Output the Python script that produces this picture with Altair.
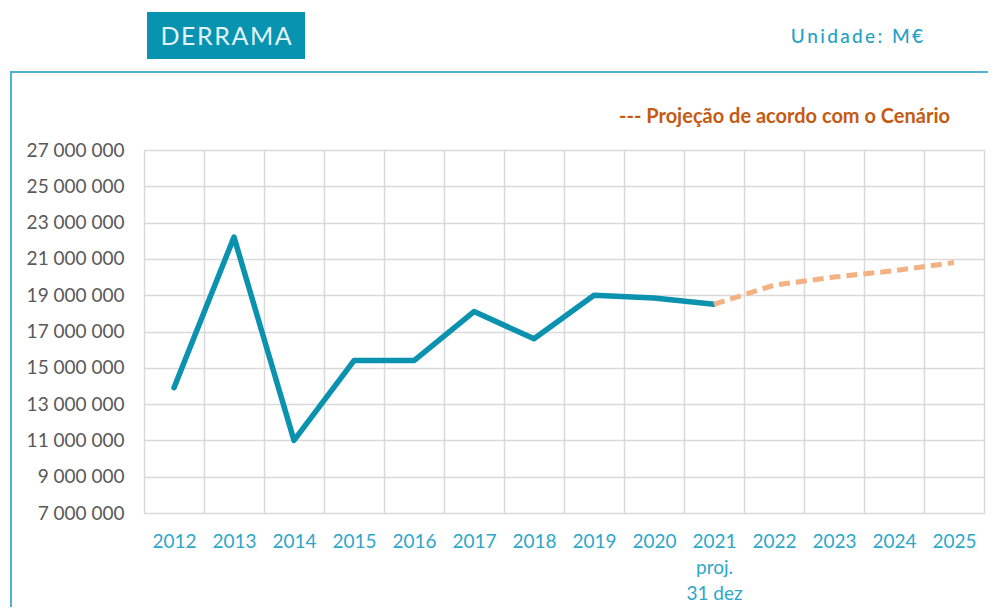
import altair as alt
import pandas as pd

# ---- data ----
years = ["2012", "2013", "2014", "2015", "2016", "2017", "2018",
         "2019", "2020", "2021", "2022", "2023", "2024", "2025"]
real_years = ["2012", "2013", "2014", "2015", "2016", "2017", "2018",
              "2019", "2020", "2021"]
real_values = [13_900_000, 22_200_000, 11_000_000, 15_400_000, 15_400_000,
               18_100_000, 16_600_000, 19_000_000, 18_850_000, 18_500_000]
proj_years = ["2021", "2022", "2023", "2024", "2025"]
proj_values = [18_500_000, 19_550_000, 20_000_000, 20_350_000, 20_800_000]
y_ticks = [7_000_000, 9_000_000, 11_000_000, 13_000_000, 15_000_000,
           17_000_000, 19_000_000, 21_000_000, 23_000_000, 25_000_000,
           27_000_000]
label_2021 = ["2021", "proj.", "31 dez"]

title_text = "DERRAMA"
unit_text = "Unidade: M€"
legend_text = "--- Projeção de acordo com o Cenário"

# ---- styles ----
FONT = "Lato"
TEAL = "#0A92AF"
ORANGE_DASH = "#F4B183"
GRID = "#D9D9D9"
FRAME = "#4DB3CE"

W, H = 840, 363

df_real = pd.DataFrame({"ano": real_years, "valor": real_values})
df_proj = pd.DataFrame({"ano": proj_years, "valor": proj_values})
one = pd.DataFrame({"k": [0]})

arr = "[" + ", ".join("'" + s + "'" for s in label_2021) + "]"
x_enc = alt.X(
    "ano:N",
    sort=years,
    scale=alt.Scale(type="band", domain=years, paddingInner=0, paddingOuter=0),
    axis=alt.Axis(
        title=None, tickBand="extent", ticks=False, domain=False, grid=True,
        gridColor=GRID, gridWidth=1.5, labelAngle=0, labelFont=FONT,
        labelFontSize=19, labelColor="#2DA7C9", labelPadding=19,
        labelLineHeight=26, labelOverlap=False,
        labelExpr=f"datum.value == '2021' ? {arr} : datum.label",
    ),
)
y_enc = alt.Y(
    "valor:Q",
    scale=alt.Scale(domain=[7_000_000, 27_000_000], nice=False, zero=False),
    axis=alt.Axis(
        title=None, values=y_ticks, tickCount=11, grid=True, gridColor=GRID,
        gridWidth=1.5, domain=False, ticks=False, tickSize=0, labelPadding=20,
        labelOverlap=False,
        labelFont=FONT, labelFontSize=19, labelColor="#595959",
        labelExpr="replace(replace(format(datum.value, ','), ',', ' '), ',', ' ')",
    ),
)

real_line = alt.Chart(df_real).mark_line(
    color=TEAL, strokeWidth=5.5, strokeCap="round", strokeJoin="round"
).encode(x=x_enc, y=y_enc)

proj_line = alt.Chart(df_proj).mark_line(
    color=ORANGE_DASH, strokeWidth=5, strokeDash=[11, 6]
).encode(x=x_enc, y=y_enc)

# decorations (pixel positions relative to plot origin)
frame_top = alt.Chart(one).mark_rule(color=FRAME, strokeWidth=2).encode(
    x=alt.value(-133), x2=alt.value(W + 10), y=alt.value(-78), y2=alt.value(-78)
)
frame_left = alt.Chart(one).mark_rule(color=FRAME, strokeWidth=2).encode(
    x=alt.value(-133), x2=alt.value(-133), y=alt.value(-79), y2=alt.value(H + 94)
)
title_box = alt.Chart(one).mark_rect(color="#0893B1").encode(
    x=alt.value(3), x2=alt.value(161), y=alt.value(-138), y2=alt.value(-91)
)
title_mark = alt.Chart(one).mark_text(
    text="\u200a".join(title_text), font=FONT, fontSize=25, color="#E3F4F8",
    align="center", baseline="alphabetic"
).encode(x=alt.value(82), y=alt.value(-105))
unit_mark = alt.Chart(one).mark_text(
    text="\u200a\u200a".join(unit_text), font=FONT, fontSize=19,
    fontWeight=500, color="#1FA2C4",
    align="right", baseline="alphabetic"
).encode(x=alt.value(779), y=alt.value(-107))
legend_mark = alt.Chart(one).mark_text(
    text=legend_text, font=FONT, fontSize=20, fontWeight="bold",
    color="#C55A11", align="right", baseline="alphabetic"
).encode(x=alt.value(806), y=alt.value(-27))

chart = alt.layer(
    real_line, proj_line, frame_top, frame_left, title_box, title_mark,
    unit_mark, legend_mark
).properties(
    width=W, height=H,
    autosize=alt.AutoSizeParams(type="none"),
    padding={"left": 136, "top": 142, "right": 4, "bottom": 94},
).configure_view(stroke=None).configure(background="white")

chart.save("out.html", embed_options={"renderer": "svg", "actions": False})
